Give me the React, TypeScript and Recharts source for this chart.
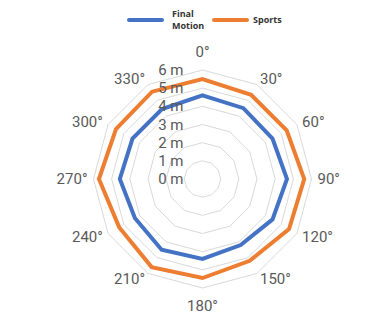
import React from "react";
import { PolarAngleAxis, PolarGrid, PolarRadiusAxis, Radar, RadarChart } from "recharts";

const angles = ["0°", "30°", "60°", "90°", "120°", "150°", "180°", "210°", "240°", "270°", "300°", "330°"];
const finalMotion = [4.6, 4.5, 4.45, 4.65, 4.45, 4.2, 4.4, 4.5, 4.3, 4.55, 4.45, 4.45];
const sports = [5.5, 5.35, 5.35, 5.6, 5.5, 5.2, 5.45, 5.6, 5.3, 5.7, 5.5, 5.55];

const seriesNames = ["Final Motion", "Sports"];
const seriesColors = ["#4472C4", "#ED7D31"];

const data = angles.map((angle, i) => ({ angle, finalMotion: finalMotion[i], sports: sports[i] }));

const CX = 202.5;
const CY = 179;
const OUTER = 109;
const LABEL_R = 115;
const axisFont = { fontFamily: "Roboto", fontSize: 15, fill: "#595959" };

function AngleTick(props: any) {
  const { payload } = props;
  const rad = (payload.coordinate * Math.PI) / 180;
  const dx = Math.cos(rad);
  const dy = -Math.sin(rad);
  let x = CX + LABEL_R * dx;
  let y = CY + LABEL_R * dy;
  let anchor: "start" | "end" | "middle" = "middle";
  if (dx > 0.01) anchor = "start";
  else if (dx < -0.01) anchor = "end";
  else y += dy * 12;
  return (
    <text x={x} y={y} textAnchor={anchor} dominantBaseline="central" {...axisFont}>
      {payload.value}
    </text>
  );
}

function RadiusTick(props: any) {
  const { x, y, payload } = props;
  return (
    <text x={x - 19} y={y} textAnchor="end" dominantBaseline="central" {...axisFont}>
      {payload.value} m
    </text>
  );
}

function TopLegend() {
  const starts = [127, 212];
  const textX = [172, 253];
  return (
    <div style={{ position: "absolute", left: 0, top: 0, width: 373, height: 40 }}>
      {seriesNames.map((name, i) => (
        <React.Fragment key={name}>
          <div
            style={{
              position: "absolute",
              left: starts[i],
              top: 18,
              width: 37,
              height: 4,
              borderRadius: 2,
              background: seriesColors[i],
            }}
          />
          <div
            style={{
              position: "absolute",
              left: textX[i],
              top: 20,
              transform: "translateY(-50%)",
              width: i === 0 ? 34 : 60,
              fontFamily: "'Open Sans'",
              fontWeight: 700,
              fontSize: 9,
              lineHeight: "12px",
              color: "#333",
            }}
          >
            {name}
          </div>
        </React.Fragment>
      ))}
    </div>
  );
}

export default function App() {
  return (
    <div style={{ position: "absolute", left: 0, top: 0, width: 373, height: 317, background: "#fff" }}>
      <RadarChart width={373} height={317} data={data} cx={CX} cy={CY} outerRadius={OUTER} margin={{ top: 0, right: 0, bottom: 0, left: 0 }}>
        <PolarGrid gridType="polygon" radialLines={false} stroke="#d9d9d9" strokeWidth={1} />
        <PolarAngleAxis dataKey="angle" tick={<AngleTick />} tickLine={false} axisLine={false} />
        <Radar name={seriesNames[0]} dataKey="finalMotion" stroke={seriesColors[0]} strokeWidth={4} fill="none" fillOpacity={0} dot={false} isAnimationActive={false} />
        <Radar name={seriesNames[1]} dataKey="sports" stroke={seriesColors[1]} strokeWidth={4} fill="none" fillOpacity={0} dot={false} isAnimationActive={false} />
        <PolarRadiusAxis angle={90} domain={[0, 6]} tickCount={7} axisLine={false} tickLine={false} tick={<RadiusTick />} />
      </RadarChart>
      <TopLegend />
    </div>
  );
}
